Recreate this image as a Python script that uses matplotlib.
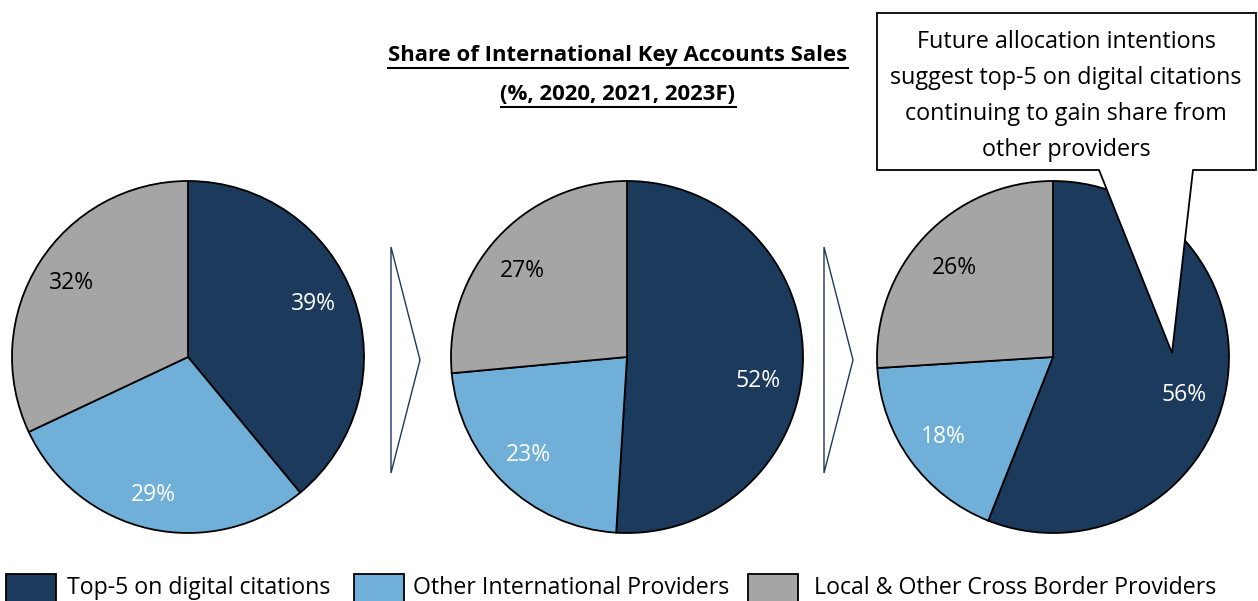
import numpy as np
import matplotlib.pyplot as plt
from matplotlib.patches import Polygon, Rectangle

plt.rcParams['font.family'] = ['Open Sans', 'DejaVu Sans']

W, H = 1258, 601

categories = ["Top-5 on digital citations", "Other International Providers",
              "Local & Other Cross Border Providers"]
years = ["2020", "2021", "2023F"]
shares_2020 = [39, 29, 32]
shares_2021 = [52, 23, 27]
shares_2023 = [56, 18, 26]
all_shares = [shares_2020, shares_2021, shares_2023]

colors = ["#1B3A5C", "#70B0D8", "#A5A5A5"]
label_colors = ["white", "white", "black"]

title_lines = ["Share of International Key Accounts Sales", "(%, 2020, 2021, 2023F)"]
callout = ("Future allocation intentions\nsuggest top-5 on digital citations\n"
           "continuing to gain share from\nother providers")

fig = plt.figure(figsize=(W / 100, H / 100), dpi=100)
ax = fig.add_axes([0, 0, 1, 1])


def Y(py):
    # pixel row (from top) -> data y
    return H - py


centers_x = [188, 627, 1053]
radius = 176
# small pixel nudges for the percentage labels (Excel-like placement)
nudges = [[(-2, -7), (-5, 6), (-2, -1)],
          [(-4, 20), (-4, 1), (-4, 5)],
          [(-2, 13), (0, 0), (0, 4)]]

for cx, vals, nd in zip(centers_x, all_shares, nudges):
    wedges, _ = ax.pie(vals, colors=colors, startangle=90, counterclock=False,
                       center=(cx, Y(357)), radius=radius,
                       wedgeprops=dict(edgecolor="black", linewidth=1.3))
    for w, v, tc, (dx, dy) in zip(wedges, vals, label_colors, nd):
        mid = np.radians((w.theta1 + w.theta2) / 2)
        d = radius * 0.77
        ax.text(cx + d * np.cos(mid) + dx, Y(357) + d * np.sin(mid) - dy, f"{v}%",
                ha="center", va="center", fontsize=16.5, color=tc)

ax.set_xlim(0, W)
ax.set_ylim(0, H)
ax.set_aspect("equal")
ax.axis("off")

# chevrons between pies
for x0 in [391, 824]:
    ax.add_patch(Polygon([(x0, Y(247)), (x0 + 29, Y(360)), (x0, Y(473))],
                         closed=True, facecolor="white", edgecolor="#1B3A5C",
                         linewidth=1.0))

# title with underline
fig.canvas.draw()
renderer = fig.canvas.get_renderer()
for line, py in zip(title_lines, [55, 94]):
    t = ax.text(618, Y(py), line, ha="center", va="center", fontsize=15.9,
                fontweight="bold", color="black")
    bb = t.get_window_extent(renderer)
    ax.plot([bb.x0, bb.x1], [Y(py + 13), Y(py + 13)], color="black", lw=1.5)

# callout box with pointer
ax.add_patch(Polygon([(877, Y(13)), (1256, Y(13)), (1256, Y(170)), (1193, Y(170)),
                      (1172, Y(353)), (1099, Y(170)), (877, Y(170))],
                     closed=True, facecolor="white", edgecolor="black",
                     linewidth=1.3, zorder=5))
ax.text(1066, Y(96), callout, ha="center", va="center", multialignment="center",
        fontsize=16.8, linespacing=1.65, zorder=6)

# legend
legend_box_x = [6, 354, 748]
legend_text_x = [67, 413, 814]
for c, name, bx, tx in zip(colors, categories, legend_box_x, legend_text_x):
    ax.add_patch(Rectangle((bx, Y(612)), 50, 38, facecolor=c, edgecolor="black",
                           linewidth=1.3))
    ax.text(tx, Y(588), name, ha="left", va="center", fontsize=16.7)

ax.set_xlim(0, W)
ax.set_ylim(0, H)

fig.savefig("out.png", dpi=100)
